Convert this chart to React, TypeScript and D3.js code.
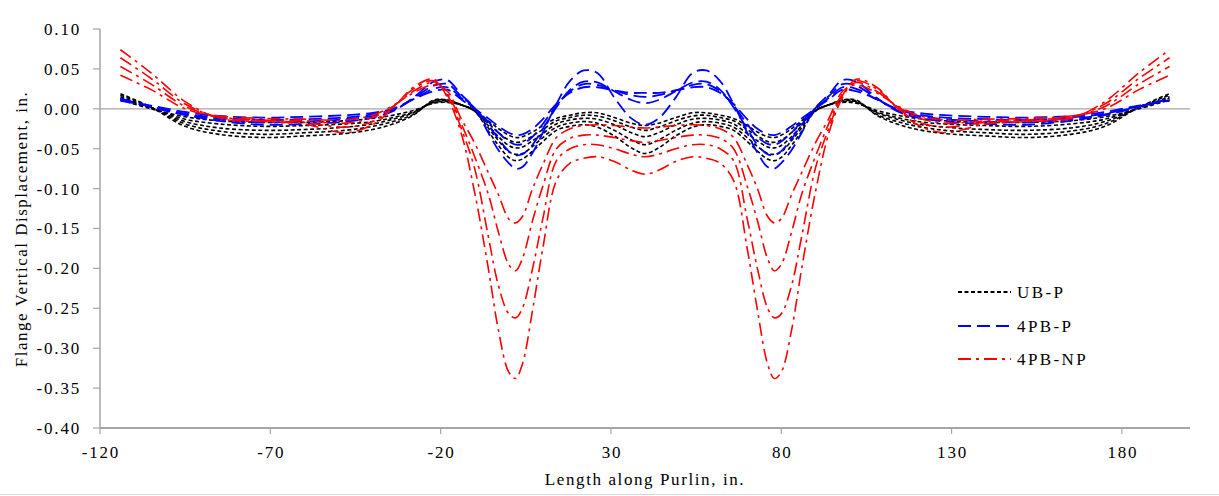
import React, { useEffect, useRef } from "react";
import * as d3 from "d3";

// Length along purlin (in.) shared by every curve
const xPositions = [
  -114, -105, -95, -85, -72, -60, -48, -40, -34, -28, -22, -18, -14, -10, -6, -3, 0, 2, 4, 7, 10, 14, 18, 22, 26, 31, 36, 40,
  44, 49, 54, 58, 62, 66, 70, 73, 76, 78, 80, 83, 86, 90, 94, 98, 102, 108, 114, 120, 128, 140, 152, 165, 175, 185, 194,
];

// UB-P (black short dash)
const ubP1 = [
  0.011, 0.0, -0.01, -0.015, -0.017, -0.017, -0.015, -0.012, -0.008, -0.002, 0.007, 0.008, 0.005, -0.002, -0.015, -0.025, -0.033, -0.036, -0.035, -0.029, -0.021, -0.012, -0.008, -0.005, -0.005, -0.011, -0.018, -0.021,
  -0.018, -0.011, -0.005, -0.005, -0.008, -0.012, -0.021, -0.029, -0.035, -0.036, -0.033, -0.025, -0.015, -0.002, 0.005, 0.008, 0.007, -0.002, -0.008, -0.012, -0.015, -0.017, -0.017, -0.015, -0.01, 0.0, 0.011,
];
const ubP2 = [
  0.013, 0.001, -0.013, -0.019, -0.022, -0.021, -0.019, -0.016, -0.011, -0.004, 0.008, 0.009, 0.005, -0.002, -0.018, -0.03, -0.039, -0.042, -0.041, -0.034, -0.026, -0.015, -0.011, -0.008, -0.009, -0.015, -0.023, -0.027,
  -0.023, -0.015, -0.009, -0.008, -0.011, -0.015, -0.026, -0.034, -0.041, -0.042, -0.039, -0.03, -0.018, -0.002, 0.005, 0.009, 0.008, -0.004, -0.011, -0.016, -0.019, -0.021, -0.022, -0.019, -0.013, 0.001, 0.013,
];
const ubP3 = [
  0.015, 0.001, -0.016, -0.024, -0.027, -0.026, -0.023, -0.019, -0.013, -0.005, 0.009, 0.01, 0.005, -0.002, -0.021, -0.035, -0.046, -0.049, -0.048, -0.04, -0.031, -0.019, -0.014, -0.012, -0.013, -0.02, -0.03, -0.035,
  -0.03, -0.02, -0.013, -0.012, -0.014, -0.019, -0.031, -0.04, -0.048, -0.049, -0.046, -0.035, -0.021, -0.002, 0.005, 0.01, 0.009, -0.005, -0.013, -0.019, -0.023, -0.026, -0.027, -0.024, -0.016, 0.001, 0.015,
];
const ubP4 = [
  0.017, 0.002, -0.019, -0.028, -0.032, -0.03, -0.027, -0.022, -0.016, -0.007, 0.01, 0.011, 0.005, -0.003, -0.024, -0.04, -0.054, -0.057, -0.056, -0.047, -0.036, -0.023, -0.018, -0.016, -0.018, -0.027, -0.039, -0.045,
  -0.039, -0.027, -0.018, -0.016, -0.018, -0.023, -0.036, -0.047, -0.056, -0.057, -0.054, -0.04, -0.024, -0.003, 0.005, 0.011, 0.01, -0.007, -0.016, -0.022, -0.027, -0.03, -0.032, -0.028, -0.019, 0.002, 0.017,
];
const ubP5 = [
  0.019, 0.002, -0.022, -0.032, -0.036, -0.034, -0.031, -0.026, -0.019, -0.008, 0.011, 0.011, 0.005, -0.003, -0.028, -0.046, -0.061, -0.065, -0.063, -0.053, -0.041, -0.027, -0.022, -0.02, -0.023, -0.034, -0.049, -0.056,
  -0.049, -0.034, -0.023, -0.02, -0.022, -0.027, -0.041, -0.053, -0.063, -0.065, -0.061, -0.046, -0.028, -0.003, 0.005, 0.011, 0.011, -0.008, -0.019, -0.026, -0.031, -0.034, -0.036, -0.032, -0.022, 0.002, 0.019,
];

// 4PB-P (blue long dash)
const pbP1 = [
  0.01, 0.004, -0.004, -0.009, -0.011, -0.01, -0.008, -0.005, 0.0, 0.012, 0.022, 0.024, 0.012, 0.0, -0.012, -0.022, -0.03, -0.033, -0.032, -0.025, -0.013, 0.006, 0.02, 0.027, 0.027, 0.023, 0.02, 0.02,
  0.02, 0.023, 0.027, 0.027, 0.02, 0.006, -0.013, -0.025, -0.032, -0.033, -0.03, -0.022, -0.012, 0.0, 0.012, 0.024, 0.022, 0.012, 0.0, -0.005, -0.008, -0.01, -0.011, -0.009, -0.004, 0.004, 0.01,
];
const pbP2 = [
  0.011, 0.003, -0.006, -0.011, -0.014, -0.013, -0.011, -0.007, -0.001, 0.012, 0.025, 0.027, 0.014, 0.0, -0.016, -0.03, -0.041, -0.045, -0.044, -0.035, -0.019, 0.004, 0.022, 0.031, 0.03, 0.023, 0.017, 0.015,
  0.017, 0.023, 0.03, 0.031, 0.022, 0.004, -0.019, -0.035, -0.044, -0.045, -0.041, -0.03, -0.016, 0.0, 0.014, 0.027, 0.025, 0.012, -0.001, -0.007, -0.011, -0.013, -0.014, -0.011, -0.006, 0.003, 0.011,
];
const pbP3 = [
  0.012, 0.003, -0.007, -0.013, -0.017, -0.016, -0.013, -0.009, -0.002, 0.013, 0.029, 0.031, 0.016, 0.001, -0.02, -0.038, -0.053, -0.058, -0.057, -0.045, -0.025, 0.002, 0.024, 0.034, 0.033, 0.022, 0.011, 0.007,
  0.011, 0.022, 0.033, 0.034, 0.024, 0.002, -0.025, -0.045, -0.057, -0.058, -0.053, -0.038, -0.02, 0.001, 0.016, 0.031, 0.029, 0.013, -0.002, -0.009, -0.013, -0.016, -0.017, -0.013, -0.007, 0.003, 0.012,
];
const pbP4 = [
  0.013, 0.002, -0.008, -0.015, -0.02, -0.019, -0.016, -0.011, -0.003, 0.014, 0.034, 0.036, 0.018, 0.001, -0.03, -0.052, -0.068, -0.075, -0.073, -0.055, -0.03, 0.006, 0.035, 0.048, 0.045, 0.014, -0.012, -0.02,
  -0.012, 0.014, 0.045, 0.048, 0.035, 0.006, -0.03, -0.055, -0.073, -0.075, -0.068, -0.052, -0.03, 0.001, 0.018, 0.036, 0.034, 0.014, -0.003, -0.011, -0.016, -0.019, -0.02, -0.015, -0.008, 0.002, 0.013,
];

// 4PB-NP (red dash-dot)
const pbNP1 = [
  0.042, 0.024, 0.0, -0.009, -0.012, -0.013, -0.014, -0.008, 0.004, 0.02, 0.03, 0.022, -0.012, -0.043, -0.08, -0.108, -0.138, -0.143, -0.135, -0.1, -0.07, -0.036, -0.025, -0.021, -0.02, -0.021, -0.023, -0.024,
  -0.023, -0.021, -0.02, -0.021, -0.025, -0.036, -0.07, -0.1, -0.135, -0.143, -0.138, -0.108, -0.08, -0.043, -0.012, 0.022, 0.03, 0.02, 0.004, -0.008, -0.014, -0.013, -0.012, -0.009, 0.0, 0.024, 0.042,
];
const pbNP2 = [
  0.053, 0.031, 0.003, -0.01, -0.014, -0.015, -0.018, -0.011, 0.003, 0.022, 0.033, 0.019, -0.018, -0.06, -0.107, -0.155, -0.195, -0.203, -0.188, -0.14, -0.097, -0.05, -0.037, -0.033, -0.033, -0.036, -0.04, -0.042,
  -0.04, -0.036, -0.033, -0.033, -0.037, -0.05, -0.097, -0.14, -0.188, -0.203, -0.195, -0.155, -0.107, -0.06, -0.018, 0.019, 0.033, 0.022, 0.003, -0.011, -0.018, -0.015, -0.014, -0.01, 0.003, 0.031, 0.053,
];
const pbNP3 = [
  0.064, 0.038, 0.006, -0.011, -0.015, -0.017, -0.023, -0.016, 0.002, 0.025, 0.035, 0.017, -0.024, -0.075, -0.16, -0.222, -0.257, -0.262, -0.25, -0.2, -0.138, -0.065, -0.05, -0.045, -0.045, -0.05, -0.057, -0.06,
  -0.057, -0.05, -0.045, -0.045, -0.05, -0.065, -0.138, -0.2, -0.25, -0.262, -0.257, -0.222, -0.16, -0.075, -0.024, 0.017, 0.035, 0.025, 0.002, -0.016, -0.023, -0.017, -0.015, -0.011, 0.006, 0.038, 0.064,
];
const pbNP4 = [
  0.074, 0.045, 0.009, -0.012, -0.016, -0.019, -0.03, -0.02, 0.001, 0.027, 0.037, 0.014, -0.03, -0.105, -0.2, -0.278, -0.33, -0.338, -0.32, -0.252, -0.175, -0.09, -0.068, -0.062, -0.06, -0.066, -0.077, -0.082,
  -0.077, -0.066, -0.06, -0.062, -0.068, -0.09, -0.175, -0.252, -0.32, -0.338, -0.33, -0.278, -0.2, -0.105, -0.03, 0.014, 0.037, 0.027, 0.001, -0.02, -0.03, -0.019, -0.016, -0.012, 0.009, 0.045, 0.074,
];

const xTicks = [-120, -70, -20, 30, 80, 130, 180];
const yTicks = [0.1, 0.05, 0, -0.05, -0.1, -0.15, -0.2, -0.25, -0.3, -0.35, -0.4];
const legendLabels = ["UB-P", "4PB-P", "4PB-NP"];

const groups = [
  { name: legendLabels[0], color: "#000000", dash: "4,2.5", width: 1.6, curves: [ubP1, ubP2, ubP3, ubP4, ubP5] },
  { name: legendLabels[1], color: "#0000ff", dash: "13,6", width: 1.8, curves: [pbP1, pbP2, pbP3, pbP4] },
  { name: legendLabels[2], color: "#ff0000", dash: "13,5,3,5", width: 1.6, curves: [pbNP1, pbNP2, pbNP3, pbNP4] },
];

const FONT = "'Liberation Serif', 'Times New Roman', serif";

export default function App() {
  const ref = useRef<SVGSVGElement>(null);

  useEffect(() => {
    const width = 1219;
    const height = 496;
    const axisColor = "#a6a6a6";

    const x = d3.scaleLinear().domain([-120, 200]).range([100, 1190]);
    const y = d3.scaleLinear().domain([-0.4, 0.1]).range([428, 29]);

    const svg = d3.select(ref.current);
    svg.selectAll("*").remove();
    svg.attr("width", width).attr("height", height);

    svg.append("rect").attr("width", width).attr("height", height).attr("fill", "#fff");

    // bottom frame line
    svg.append("line")
      .attr("x1", 0).attr("x2", width)
      .attr("y1", 494.5).attr("y2", 494.5)
      .attr("stroke", "#d9d9d9");

    // zero line
    svg.append("line")
      .attr("x1", x(-120)).attr("x2", x(200))
      .attr("y1", y(0)).attr("y2", y(0))
      .attr("stroke", axisColor)
      .attr("stroke-width", 1.2);

    // y axis
    svg.append("line")
      .attr("x1", x(-120)).attr("x2", x(-120))
      .attr("y1", y(0.1)).attr("y2", y(-0.4))
      .attr("stroke", axisColor)
      .attr("stroke-width", 1.5);

    yTicks.forEach((t) => {
      svg.append("line")
        .attr("x1", x(-120) - 7).attr("x2", x(-120))
        .attr("y1", y(t)).attr("y2", y(t))
        .attr("stroke", axisColor)
        .attr("stroke-width", 1.2);
      svg.append("text")
        .attr("x", 81)
        .attr("y", y(t))
        .attr("dy", "0.35em")
        .attr("text-anchor", "end")
        .style("font-family", FONT)
        .style("font-size", "17px")
        .style("letter-spacing", "1.8px")
        .text(t.toFixed(2));
    });

    // x axis
    svg.append("line")
      .attr("x1", x(-120)).attr("x2", x(200))
      .attr("y1", y(-0.4)).attr("y2", y(-0.4))
      .attr("stroke", axisColor)
      .attr("stroke-width", 1.8);

    xTicks.forEach((t) => {
      svg.append("line")
        .attr("x1", x(t)).attr("x2", x(t))
        .attr("y1", y(-0.4)).attr("y2", y(-0.4) + 6)
        .attr("stroke", axisColor)
        .attr("stroke-width", 1.2);
      svg.append("text")
        .attr("x", x(t) + 1)
        .attr("y", 458)
        .attr("text-anchor", "middle")
        .style("font-family", FONT)
        .style("font-size", "17px")
        .style("letter-spacing", "1.8px")
        .text(String(t));
    });

    // axis titles
    svg.append("text")
      .attr("x", 645)
      .attr("y", 485)
      .attr("text-anchor", "middle")
      .style("font-family", FONT)
      .style("font-size", "17px")
      .style("letter-spacing", "1.6px")
      .text("Length along Purlin, in.");

    svg.append("text")
      .attr("transform", "translate(27,229) rotate(-90)")
      .attr("text-anchor", "middle")
      .style("font-family", FONT)
      .style("font-size", "17px")
      .style("letter-spacing", "1.5px")
      .text("Flange Vertical Displacement, in.");

    // curves
    const line = d3.line<number>()
      .x((d, i) => x(xPositions[i]))
      .y((d) => y(d))
      .curve(d3.curveCatmullRom.alpha(0.5));

    groups.forEach((g) => {
      g.curves.forEach((c) => {
        svg.append("path")
          .datum(c)
          .attr("d", line)
          .attr("fill", "none")
          .attr("stroke", g.color)
          .attr("stroke-width", g.width)
          .attr("stroke-dasharray", g.dash);
      });
    });

    // legend
    const legendY = [292, 326, 359];
    groups.forEach((g, i) => {
      svg.append("line")
        .attr("x1", 958).attr("x2", 1011)
        .attr("y1", legendY[i]).attr("y2", legendY[i])
        .attr("stroke", g.color)
        .attr("stroke-width", g.width + 0.4)
        .attr("stroke-dasharray", g.dash);
      svg.append("text")
        .attr("x", 1017)
        .attr("y", legendY[i])
        .attr("dy", "0.35em")
        .style("font-family", FONT)
        .style("font-size", "17px")
        .style("letter-spacing", "2.4px")
        .text(g.name);
    });
  }, []);

  return <svg ref={ref} style={{ position: "absolute", left: 0, top: 0, display: "block" }}></svg>;
}
